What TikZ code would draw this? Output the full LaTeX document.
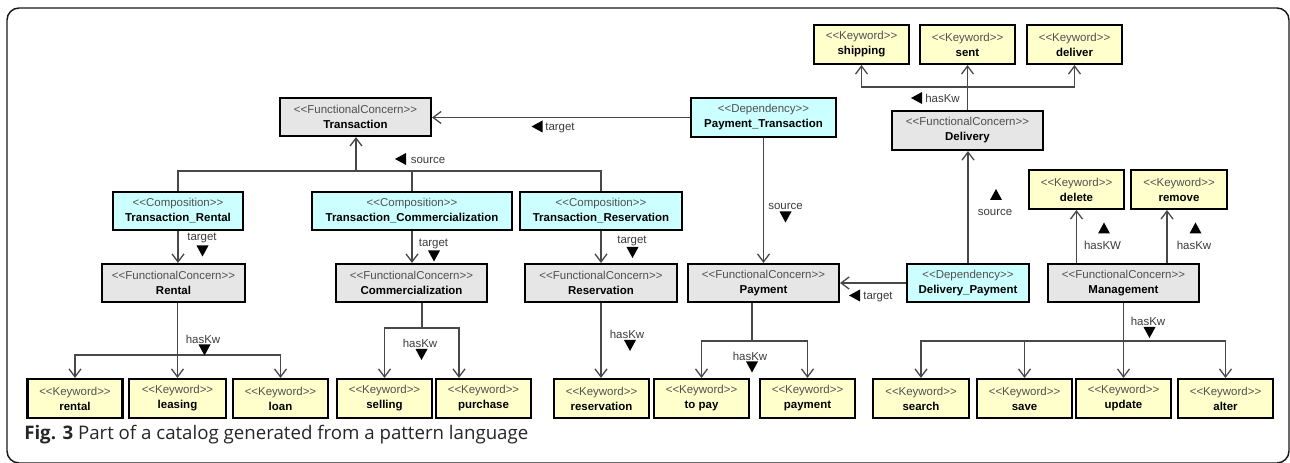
\documentclass[tikz,border=0pt]{standalone}
\usepackage{fontspec}
\newfontfamily\boxfont{Liberation Sans}
\newfontfamily\capfont{Open Sans}
\usetikzlibrary{arrows.meta}

\definecolor{fcfill}{HTML}{E6E6E6}
\definecolor{cyfill}{HTML}{CCFFFF}
\definecolor{kwfill}{HTML}{FFFFCC}
\definecolor{stereo}{HTML}{505050}
\definecolor{wire}{HTML}{484848}
\definecolor{lbl}{HTML}{3C3C3C}

% stereotype line + bold name
\newcommand\umltext[2]{{\color{stereo}<<#1>>}\\\textbf{#2}}

\tikzset{
  box/.style={draw=black, line width=1.6pt, inner sep=0pt, align=center,
    minimum height=38*0.75pt, font=\boxfont\fontsize{8.6}{11.25}\selectfont},
  fc/.style={box, fill=fcfill, minimum width=151*0.75pt},
  cy/.style={box, fill=cyfill},
  kw/.style={box, fill=kwfill, minimum width=95*0.75pt, minimum height=39*0.75pt},
  wireline/.style={draw=wire, line width=0.95pt},
  conn/.style={wireline, -{Straight Barb[length=6pt, width=9pt]}},
  role/.style={text=lbl, inner sep=0pt, font=\boxfont\fontsize{8.6}{10}\selectfont},
  triD/.pic={\fill[black] (-6,-5.5) -- (6,-5.5) -- (0,5.5) -- cycle;},
  triU/.pic={\fill[black] (-6,5.5) -- (6,5.5) -- (0,-5.5) -- cycle;},
  triL/.pic={\fill[black] (5.5,-6) -- (5.5,6) -- (-5.5,0) -- cycle;},
}

\begin{document}
\begin{tikzpicture}[x=0.75pt, y=-0.75pt]
\useasboundingbox (0,0) rectangle (1290,463);
\fill[white] (0,0) rectangle (1290,463);

% outer frame
\draw[black!90, line width=1.1pt, rounded corners=9pt] (7,8) rectangle (1289,463);

% ---- functional concerns
\node[fc] (tr)      at (355.5,117)   {\umltext{FunctionalConcern}{Transaction}};
\node[fc, minimum width=143*0.75pt] (rentalfc) at (173.5,283) {\umltext{FunctionalConcern}{Rental}};
\node[fc] (commfc)  at (411.5,283)   {\umltext{FunctionalConcern}{Commercialization}};
\node[fc, minimum width=152*0.75pt] (resfc) at (601,283) {\umltext{FunctionalConcern}{Reservation}};
\node[fc] (payfc)   at (763.5,283)   {\umltext{FunctionalConcern}{Payment}};
\node[fc, minimum height=39*0.75pt] (delivfc) at (967.5,130.5) {\umltext{FunctionalConcern}{Delivery}};
\node[fc] (mgmtfc)  at (1123.5,283)  {\umltext{FunctionalConcern}{Management}};

% ---- compositions and dependencies
\node[cy, minimum width=145*0.75pt, minimum height=39*0.75pt] (paytr) at (763.5,117.5) {\umltext{Dependency}{Payment\_Transaction}};
\node[cy, minimum width=130*0.75pt] (trrent) at (178,211) {\umltext{Composition}{Transaction\_Rental}};
\node[cy, minimum width=200*0.75pt] (trcomm) at (412,211) {\umltext{Composition}{Transaction\_Commercialization}};
\node[cy, minimum width=162*0.75pt] (trres)  at (601,211) {\umltext{Composition}{Transaction\_Reservation}};
\node[cy, minimum width=122*0.75pt] (delpay) at (968,283) {\umltext{Dependency}{Delivery\_Payment}};

% ---- keywords
\node[kw] (kship)    at (861.5,44.5)  {\umltext{Keyword}{shipping}};
\node[kw] (ksent)    at (967.5,44.5)  {\umltext{Keyword}{sent}};
\node[kw] (kdeliver) at (1074.5,44.5) {\umltext{Keyword}{deliver}};
\node[kw] (kdelete)  at (1076.5,189.5) {\umltext{Keyword}{delete}};
\node[kw, minimum width=96*0.75pt] (kremove) at (1179,189.5) {\umltext{Keyword}{remove}};

\node[kw] (krental)   at (75,398.5)    {\umltext{Keyword}{rental}};
\node[kw, minimum width=97*0.75pt] (kleasing) at (177.5,398.5) {\umltext{Keyword}{leasing}};
\node[kw] (kloan)     at (280.5,398.5) {\umltext{Keyword}{loan}};
\node[kw] (kselling)  at (384.5,398.5) {\umltext{Keyword}{selling}};
\node[kw] (kpurchase) at (483.5,398.5) {\umltext{Keyword}{purchase}};
\node[kw] (kreserv)   at (601.5,398.5) {\umltext{Keyword}{reservation}};
\node[kw] (ktopay)    at (701.5,398.5) {\umltext{Keyword}{to pay}};
\node[kw] (kpayment)  at (807.5,398.5) {\umltext{Keyword}{payment}};
\node[kw, minimum width=96*0.75pt] (ksearch) at (921,398.5) {\umltext{Keyword}{search}};
\node[kw] (ksave)     at (1024.5,398.5) {\umltext{Keyword}{save}};
\node[kw] (kupdate)   at (1123.5,398.5) {\umltext{Keyword}{update}};
\node[kw] (kalter)    at (1225.5,398.5) {\umltext{Keyword}{alter}};

% ---- junction points of the branching connectors
\coordinate (jT) at (356,171);
\coordinate (jD) at (967.5,87);
\coordinate (jM) at (1123.5,341);
\coordinate (jP) at (752,341);
\coordinate (jC) at (422,328);
\coordinate (jR) at (177.5,355);
\coordinate (xRemove) at (1167,0);
\coordinate (xPurchase) at (459,0);

% Payment_Transaction -> Transaction
\draw[conn] (paytr.west) -- (paytr.west -| tr.east);
% compositions -> Transaction (source)
\draw[wireline] (trrent.north) -- (trrent.north |- jT) -- (trres.north |- jT) -- (trres.north);
\draw[wireline] (trcomm.north) -- (trcomm.north |- jT);
\draw[conn] (jT) -- (jT |- tr.south);
% compositions -> concerns (target)
\draw[conn] (trrent.south) -- (trrent.south |- rentalfc.north);
\draw[conn] (trcomm.south) -- (trcomm.south |- commfc.north);
\draw[conn] (trres.south) -- (trres.south |- resfc.north);
% Payment_Transaction -> Payment (source)
\draw[conn] (paytr.south) -- (paytr.south |- payfc.north);
% Delivery_Payment -> Payment / Delivery
\draw[conn] (delpay.west) -- (delpay.west -| payfc.east);
\draw[conn] (delpay.north) -- (delpay.north |- delivfc.south);
% Delivery keywords
\draw[conn] (delivfc.north) -- (delivfc.north |- ksent.south);
\draw[conn] (jD) -| (kship.south);
\draw[conn] (jD) -| (kdeliver.south);
% Management keywords
\draw[conn] (kdelete.south |- mgmtfc.north) -- (kdelete.south);
\draw[conn] (xRemove |- mgmtfc.north) -- (xRemove |- kremove.south);
\draw[conn] (mgmtfc.south) -- (mgmtfc.south |- kupdate.north);
\draw[conn] (jM) -| (ksearch.north);
\draw[conn] (jM) -| (ksave.north);
\draw[conn] (jM) -| (kalter.north);
% Payment keywords
\draw[wireline] (jP |- payfc.south) -- (jP);
\draw[conn] (jP) -| (ktopay.north);
\draw[conn] (jP) -| (kpayment.north);
% Reservation keyword
\draw[conn] (resfc.south) -- (resfc.south |- kreserv.north);
% Commercialization keywords
\draw[wireline] (jC |- commfc.south) -- (jC);
\draw[conn] (jC) -| (kselling.north);
\draw[conn] (jC) -| (xPurchase |- kpurchase.north);
% Rental keywords
\draw[conn] (jR |- rentalfc.south) -- (jR |- kleasing.north);
\draw[conn] (jR) -| (krental.north);
\draw[conn] (jR) -| (kloan.north);

% ---- role labels with direction markers
\node[role] (l1)  at (560,128)   {target};   \pic at (537,126.5) {triL};
\node[role] (l2)  at (428,160)   {source};   \pic at (400.5,159) {triL};
\node[role] (l3)  at (202,238)   {target};   \pic at (202.5,251) {triD};
\node[role] (l4)  at (433.5,244) {target};   \pic at (434,256) {triD};
\node[role] (l5)  at (632,241)   {target};   \pic at (632.5,252.5) {triD};
\node[role] (l6)  at (785.5,206) {source};   \pic at (785.5,217) {triD};
\node[role] (l7)  at (878,297)   {target};   \pic at (854.5,295.5) {triL};
\node[role] (l8)  at (995,212)   {source};   \pic at (996,194.5) {triU};
\node[role] (l9)  at (942.5,98)  {hasKw};    \pic at (916.5,98) {triL};
\node[role] (l10) at (1102.5,245) {hasKW};   \pic at (1104,228) {triU};
\node[role] (l11) at (1194,245)  {hasKw};    \pic at (1195.5,228) {triU};
\node[role] (l12) at (1148,321)  {hasKw};    \pic at (1149.5,332.5) {triD};
\node[role] (l13) at (750,356)   {hasKw};    \pic at (752,367) {triD};
\node[role] (l14) at (627,334)   {hasKw};    \pic at (630,345.5) {triD};
\node[role] (l15) at (420,343)   {hasKw};    \pic at (421.5,354.5) {triD};
\node[role] (l16) at (203,339)   {hasKw};    \pic at (204.5,350) {triD};

% ---- caption
\node[anchor=base west, inner sep=0pt, text=black!85,
      font=\capfont\fontsize{14}{17}\selectfont] (cap) at (24,440)
  {\textbf{Fig. 3} Part of a catalog generated from a pattern language};
\end{tikzpicture}
\end{document}
